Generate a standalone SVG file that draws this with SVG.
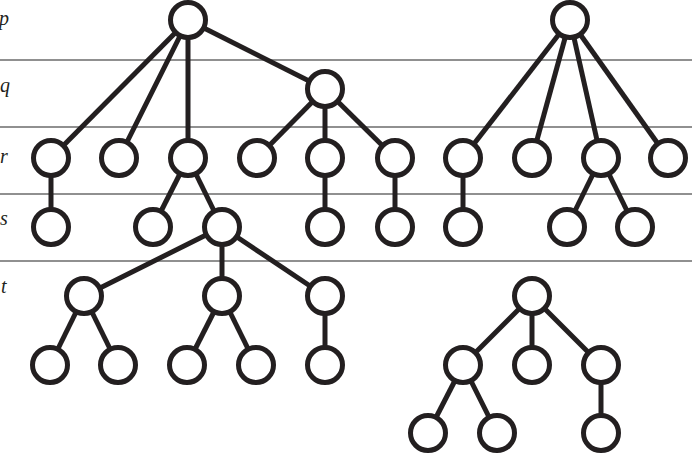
<svg xmlns="http://www.w3.org/2000/svg" width="692" height="454" viewBox="0 0 692 454">
<style>
.lvl{stroke:#6b6b6b;stroke-width:1.4}
.lab{font-family:"Liberation Serif",serif;font-style:italic;font-size:20px;fill:#231f20}
.e{stroke:#231f20;stroke-width:5;fill:none}
.n circle{fill:#fff;stroke:#231f20;stroke-width:5}
</style>
<rect width="692" height="454" fill="#fff"/>
<g id="levels">
<line class="lvl" x1="0" y1="60" x2="692" y2="60"/>
<line class="lvl" x1="0" y1="127" x2="692" y2="127"/>
<line class="lvl" x1="0" y1="194" x2="692" y2="194"/>
<line class="lvl" x1="0" y1="261" x2="692" y2="261"/>
<text class="lab" x="-1" y="25">p</text>
<text class="lab" x="0" y="92">q</text>
<text class="lab" x="0" y="163">r</text>
<text class="lab" x="0" y="225">s</text>
<text class="lab" x="1" y="293">t</text>
</g>
<g id="connectors" class="e">
<line x1="188" y1="20" x2="51" y2="158"/>
<line x1="188" y1="20" x2="119" y2="158"/>
<line x1="188" y1="20" x2="188" y2="158"/>
<line x1="188" y1="20" x2="325" y2="89"/>
<line x1="325" y1="89" x2="257" y2="158"/>
<line x1="325" y1="89" x2="325" y2="158"/>
<line x1="325" y1="89" x2="395" y2="158"/>
<line x1="51" y1="158" x2="51" y2="227"/>
<line x1="188" y1="158" x2="153" y2="227"/>
<line x1="188" y1="158" x2="222" y2="227"/>
<line x1="325" y1="158" x2="325" y2="227"/>
<line x1="395" y1="158" x2="395" y2="227"/>
<line x1="222" y1="227" x2="84" y2="296"/>
<line x1="222" y1="227" x2="222" y2="296"/>
<line x1="222" y1="227" x2="325" y2="296"/>
<line x1="84" y1="296" x2="50" y2="365"/>
<line x1="84" y1="296" x2="118" y2="365"/>
<line x1="222" y1="296" x2="187" y2="365"/>
<line x1="222" y1="296" x2="256" y2="365"/>
<line x1="325" y1="296" x2="325" y2="365"/>
<line x1="570" y1="20" x2="463" y2="158"/>
<line x1="570" y1="20" x2="532" y2="158"/>
<line x1="570" y1="20" x2="601" y2="158"/>
<line x1="570" y1="20" x2="668" y2="158"/>
<line x1="463" y1="158" x2="463" y2="227"/>
<line x1="601" y1="158" x2="567" y2="227"/>
<line x1="601" y1="158" x2="635" y2="227"/>
<line x1="532" y1="296" x2="463" y2="365"/>
<line x1="532" y1="296" x2="532" y2="365"/>
<line x1="532" y1="296" x2="601" y2="365"/>
<line x1="463" y1="365" x2="428" y2="433"/>
<line x1="463" y1="365" x2="497" y2="433"/>
<line x1="601" y1="365" x2="601" y2="433"/>
</g>
<g class="n">
<g id="n-p1"><circle cx="188" cy="20" r="17.5"/></g>
<g id="n-q1"><circle cx="325" cy="89" r="17.5"/></g>
<g id="n-r1"><circle cx="51" cy="158" r="17.5"/></g>
<g id="n-r2"><circle cx="119" cy="158" r="17.5"/></g>
<g id="n-r3"><circle cx="188" cy="158" r="17.5"/></g>
<g id="n-r4"><circle cx="257" cy="158" r="17.5"/></g>
<g id="n-r5"><circle cx="325" cy="158" r="17.5"/></g>
<g id="n-r6"><circle cx="395" cy="158" r="17.5"/></g>
<g id="n-s1"><circle cx="51" cy="227" r="17.5"/></g>
<g id="n-s2"><circle cx="153" cy="227" r="17.5"/></g>
<g id="n-s3"><circle cx="222" cy="227" r="17.5"/></g>
<g id="n-s4"><circle cx="325" cy="227" r="17.5"/></g>
<g id="n-s5"><circle cx="395" cy="227" r="17.5"/></g>
<g id="n-t1"><circle cx="84" cy="296" r="17.5"/></g>
<g id="n-t2"><circle cx="222" cy="296" r="17.5"/></g>
<g id="n-t3"><circle cx="325" cy="296" r="17.5"/></g>
<g id="n-u1"><circle cx="50" cy="365" r="17.5"/></g>
<g id="n-u2"><circle cx="118" cy="365" r="17.5"/></g>
<g id="n-u3"><circle cx="187" cy="365" r="17.5"/></g>
<g id="n-u4"><circle cx="256" cy="365" r="17.5"/></g>
<g id="n-u5"><circle cx="325" cy="365" r="17.5"/></g>
<g id="n-p2"><circle cx="570" cy="20" r="17.5"/></g>
<g id="n-r7"><circle cx="463" cy="158" r="17.5"/></g>
<g id="n-r8"><circle cx="532" cy="158" r="17.5"/></g>
<g id="n-r9"><circle cx="601" cy="158" r="17.5"/></g>
<g id="n-r10"><circle cx="668" cy="158" r="17.5"/></g>
<g id="n-s6"><circle cx="463" cy="227" r="17.5"/></g>
<g id="n-s7"><circle cx="567" cy="227" r="17.5"/></g>
<g id="n-s8"><circle cx="635" cy="227" r="17.5"/></g>
<g id="n-t4"><circle cx="532" cy="296" r="17.5"/></g>
<g id="n-u6"><circle cx="463" cy="365" r="17.5"/></g>
<g id="n-u7"><circle cx="532" cy="365" r="17.5"/></g>
<g id="n-u8"><circle cx="601" cy="365" r="17.5"/></g>
<g id="n-v1"><circle cx="428" cy="433" r="17.5"/></g>
<g id="n-v2"><circle cx="497" cy="433" r="17.5"/></g>
<g id="n-v3"><circle cx="601" cy="433" r="17.5"/></g>
</g>
</svg>
